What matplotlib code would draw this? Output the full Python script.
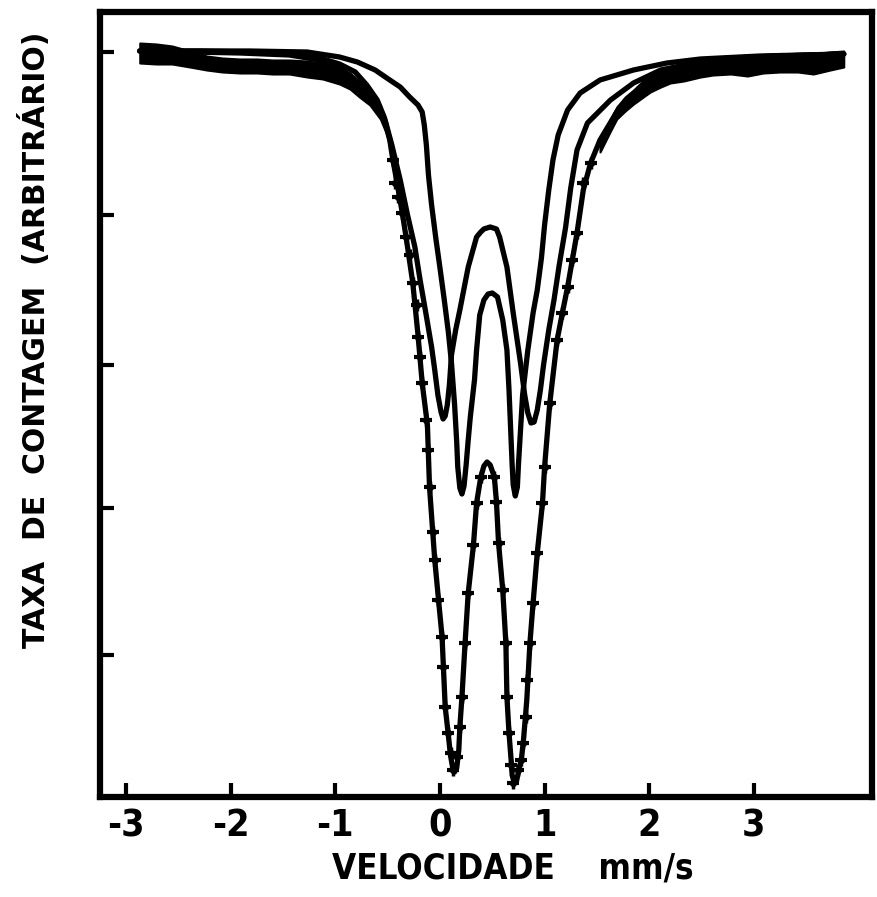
import matplotlib
matplotlib.use("Agg")
import matplotlib.pyplot as plt
import numpy as np

# velocity in mm/s, counts in arbitrary units (axis has no numbers)

# data band in the flat wings (dense channels + error bars)
wing_l_v = [-2.87, -2.71, -2.56, -2.39, -2.23, -2.08, -1.91, -1.75, -1.60, -1.44,
            -1.27, -1.12, -0.96, -0.86, -0.77, -0.67, -0.57, -0.51, -0.46]
wing_l_y = [747, 746, 745, 741, 737, 735, 734, 734, 733, 733,
            731, 729, 724, 719, 711, 702, 688, 672, 650]
wing_l_e = [10, 10, 9, 8, 7, 7, 7, 7, 7, 7, 8, 8, 8, 8, 8, 7, 7, 6, 5]

wing_r_v = [1.53, 1.63, 1.69, 1.77, 1.85, 1.93, 2.01, 2.11, 2.20, 2.33,
            2.49, 2.61, 2.78, 2.94, 3.09, 3.25, 3.42, 3.57, 3.73, 3.86]
wing_r_y = [653, 675, 687, 696, 703, 710, 716, 721, 725, 728,
            732, 734, 735, 734, 736, 737, 737, 736, 739, 741]
wing_r_e = [5, 6, 6, 7, 7, 8, 8, 8, 8, 9, 9, 9, 9, 10, 9, 9, 9, 10, 9, 8]

# individual channels in the absorption region
dip_v = [-0.45, -0.43, -0.40, -0.36, -0.32, -0.29, -0.26, -0.22, -0.21, -0.19,
         -0.17, -0.13, -0.11, -0.10, -0.07, -0.05, -0.02, 0.02, 0.03, 0.05,
         0.08, 0.11, 0.12, 0.16, 0.19, 0.21, 0.24, 0.27, 0.32, 0.35,
         0.39, 0.52, 0.54, 0.56, 0.60, 0.63, 0.64, 0.66, 0.68, 0.70,
         0.75, 0.77, 0.79, 0.82, 0.83, 0.86, 0.89, 0.93, 0.98, 1.00,
         1.05, 1.12, 1.17, 1.22, 1.26, 1.31, 1.37, 1.44]
dip_y = [640, 617, 603, 587, 563, 545, 517, 495, 463, 443,
         417, 380, 350, 313, 268, 240, 200, 163, 133, 93,
         67, 47, 30, 43, 73, 103, 157, 207, 255, 297,
         323, 323, 298, 257, 210, 157, 103, 67, 35, 17,
         30, 40, 57, 83, 120, 157, 197, 247, 297, 333,
         397, 460, 487, 513, 540, 567, 617, 637]

# total fit
tot_v = [-2.87, -2.39, -1.91, -1.44, -1.15, -0.96, -0.77, -0.62, -0.53, -0.48,
         -0.45, -0.41, -0.36, -0.32, -0.26, -0.21, -0.17, -0.12, -0.10, -0.05,
         0.02, 0.05, 0.08, 0.10, 0.12, 0.14, 0.16, 0.18, 0.19, 0.21,
         0.24, 0.27, 0.32, 0.35, 0.39, 0.42, 0.45, 0.48, 0.52, 0.54,
         0.56, 0.60, 0.63, 0.64, 0.66, 0.68, 0.69, 0.71, 0.73, 0.75,
         0.78, 0.80, 0.83, 0.86, 0.89, 0.93, 0.98, 1.00, 1.05, 1.12,
         1.17, 1.22, 1.31, 1.37, 1.44, 1.53, 1.69, 1.85, 2.01, 2.17,
         2.49, 2.80, 3.25, 3.86]
tot_y = [749, 748, 747, 745, 740, 732, 716, 700, 680, 660,
         640, 617, 587, 560, 517, 465, 417, 375, 313, 240,
         163, 93, 65, 45, 33, 28, 32, 50, 73, 103,
         157, 207, 255, 297, 323, 334, 338, 335, 323, 298,
         257, 210, 157, 103, 67, 40, 25, 17, 18, 28,
         42, 62, 100, 157, 197, 247, 297, 333, 397, 460,
         487, 513, 567, 610, 637, 660, 688, 706, 720, 730,
         738, 742, 744, 746]

# sub-spectrum A (wide splitting)
a_v = [-2.87, -2.30, -1.82, -1.44, -1.15, -0.96, -0.81, -0.70, -0.60, -0.53,
       -0.46, -0.38, -0.31, -0.24, -0.19, -0.14, -0.08, -0.05, -0.02, 0.01,
       0.03, 0.05, 0.07, 0.09, 0.11, 0.15, 0.19, 0.27, 0.35, 0.39,
       0.42, 0.48, 0.54, 0.57, 0.64, 0.70, 0.77, 0.81, 0.84, 0.87,
       0.90, 0.93, 0.96, 0.99, 1.04, 1.09, 1.14, 1.20, 1.25, 1.31,
       1.41, 1.63, 1.85, 2.11, 2.49, 2.97, 3.86]
a_y = [749, 749, 748, 746, 742, 736, 728, 715, 700, 682,
       655, 620, 585, 553, 520, 490, 453, 430, 405, 388,
       381, 384, 395, 415, 445, 470, 490, 533, 563, 568,
       571, 573, 571, 563, 533, 487, 437, 405, 387, 377,
       378, 390, 410, 435, 470, 500, 535, 572, 612, 650,
       677, 700, 717, 730, 738, 743, 746]

# sub-spectrum B (narrow splitting)
b_v = [-2.87, -1.82, -1.27, -0.96, -0.79, -0.62, -0.48, -0.38, -0.29, -0.21,
       -0.17, -0.15, -0.13, -0.11, -0.08, -0.04, 0.00, 0.04, 0.08, 0.11,
       0.14, 0.16, 0.17, 0.19, 0.21, 0.23, 0.25, 0.27, 0.29, 0.33,
       0.35, 0.38, 0.42, 0.46, 0.50, 0.55, 0.60, 0.64, 0.66, 0.68,
       0.69, 0.70, 0.72, 0.74, 0.75, 0.77, 0.79, 0.84, 0.89, 0.93,
       0.97, 1.00, 1.04, 1.08, 1.13, 1.22, 1.34, 1.53, 1.85, 2.17,
       2.49, 3.06, 3.86]
b_y = [749, 749, 748, 743, 738, 730, 720, 713, 703, 695,
       688, 675, 655, 625, 595, 562, 532, 501, 468, 437,
       395, 358, 333, 312, 306, 314, 335, 360, 383, 420,
       450, 485, 500, 506, 507, 503, 480, 450, 410, 360,
       335, 315, 304, 313, 335, 370, 405, 450, 487, 510,
       542, 575, 610, 640, 665, 690, 707, 720, 730, 737,
       741, 744, 746]

xticks = [-3, -2, -1, 0, 1, 2, 3]
yticks = [748, 585, 435, 292, 145]

fig = plt.figure(figsize=(8.77, 8.97), dpi=100)
ax = fig.add_axes([100/877, 1-797/897, 772/877, 785/897])

# noisy baseline data as a solid band
ax.fill_between(wing_l_v, np.array(wing_l_y) - np.array(wing_l_e),
                np.array(wing_l_y) + np.array(wing_l_e), color='black', lw=1.5)
ax.fill_between(wing_r_v, np.array(wing_r_y) - np.array(wing_r_e),
                np.array(wing_r_y) + np.array(wing_r_e), color='black', lw=1.5)

for xs, ys in [(a_v, a_y), (b_v, b_y), (tot_v, tot_y)]:
    ax.plot(xs, ys, color='black', lw=3.8, solid_joinstyle='round', solid_capstyle='round')

ax.errorbar(dip_v, dip_y, yerr=6, fmt='none', ecolor='black', elinewidth=2.5, capsize=0)
ax.plot(dip_v, dip_y, ls='none', marker='_', ms=9, mew=3, color='black')
ax.plot(dip_v, dip_y, ls='none', marker='D', ms=4, color='black')

ax.set_xlim(-3.25, 4.13)
ax.set_ylim(3, 788)
ax.set_xticks(xticks)
ax.set_xticklabels([str(t) for t in xticks])
ax.set_yticks(yticks)
ax.set_yticklabels([])
ax.tick_params(axis='both', direction='in', length=10, width=3, color='black')
ax.tick_params(axis='x', pad=8, labelsize=27)
for lab in ax.get_xticklabels():
    lab.set_family('DejaVu Sans')
    lab.set_fontstretch('condensed')
    lab.set_fontweight('bold')
for s in ax.spines.values():
    s.set_linewidth(4.5)

fig.text(513/877, 1-868/897, 'VELOCIDADE    mm/s', ha='center', va='center',
         fontsize=25, fontweight='bold', family='DejaVu Sans', fontstretch='condensed')
fig.text(35/877, 1-340/897, 'TAXA  DE  CONTAGEM  (ARBITRÁRIO)', rotation=90,
         ha='center', va='center', fontsize=21.5, fontweight='bold', family='DejaVu Sans')

fig.savefig('out.png', dpi=100)
